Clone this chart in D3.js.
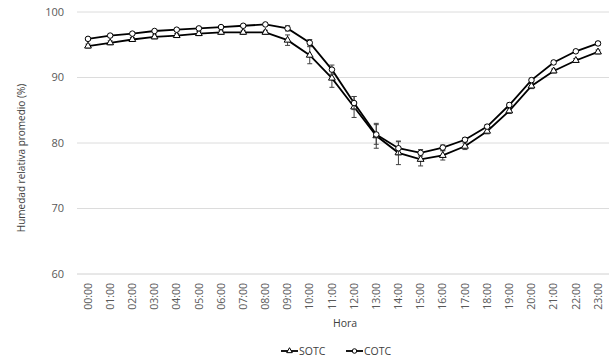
<!DOCTYPE html>
<html>
<head>
<meta charset="utf-8">
<script src="https://cdn.jsdelivr.net/npm/d3@7"></script>
<style>
  body { margin: 0; background: #fff; }
  svg { display: block; font-family: "Open Sans", "Liberation Sans", sans-serif; }
</style>
</head>
<body>
<svg id="chart" width="611" height="360"></svg>
<script>
// Hourly labels
const hours = ["00:00","01:00","02:00","03:00","04:00","05:00","06:00","07:00","08:00","09:00","10:00","11:00",
               "12:00","13:00","14:00","15:00","16:00","17:00","18:00","19:00","20:00","21:00","22:00","23:00"];

// Mean relative humidity (%) and error (±)
const sotc = [94.8,95.3,95.8,96.2,96.4,96.7,96.9,96.9,96.9,95.7,93.4,89.9,85.5,81.1,78.5,77.5,78.1,79.5,81.8,84.9,88.7,91.0,92.6,93.9];
const sotcErr = [0.3,0.3,0.3,0.3,0.3,0.3,0.3,0.3,0.3,0.8,1.3,1.4,1.6,1.9,1.8,1.0,0.7,0.5,0.4,0.4,0.4,0.3,0.3,0.3];
const cotc = [95.9,96.4,96.7,97.1,97.3,97.5,97.7,97.9,98.1,97.5,95.3,91.2,86.1,81.3,79.2,78.5,79.3,80.5,82.5,85.8,89.6,92.3,94.0,95.2];
const cotcErr = [0.2,0.2,0.2,0.2,0.2,0.2,0.2,0.2,0.2,0.4,0.5,0.7,1.0,1.5,1.0,0.5,0.4,0.3,0.3,0.3,0.3,0.3,0.2,0.3];

const yTicks = [60,70,80,90,100];
const seriesNames = ["SOTC","COTC"];

const svg = d3.select("#chart");
const plot = { left: 77, right: 609, top: 12, bottom: 274 };

const x = d3.scalePoint().domain(hours).range([88, 598]);
const y = d3.scaleLinear().domain([60,100]).range([plot.bottom, plot.top]);

// Gridlines
svg.append("g").selectAll("line").data(yTicks).join("line")
  .attr("x1", plot.left).attr("x2", plot.right)
  .attr("y1", d => y(d)).attr("y2", d => y(d))
  .attr("stroke", d => d === 60 ? "#d0d0d0" : "#dcdcdc").attr("stroke-width", 1);

// Y axis tick labels
svg.append("g").selectAll("text").data(yTicks).join("text")
  .attr("x", 64).attr("y", d => y(d)).attr("dy", "0.35em")
  .attr("text-anchor", "end").attr("font-size", 11).attr("fill", "#595959")
  .text(d => d);

// X axis tick labels (rotated)
svg.append("g").selectAll("text").data(hours).join("text")
  .attr("transform", d => `translate(${x(d)},283) rotate(-90)`)
  .attr("dy", "0.35em")
  .attr("text-anchor", "end").attr("font-size", 10.5).attr("fill", "#595959")
  .text(d => d);

// Axis titles
svg.append("text").attr("x", 345).attr("y", 327).attr("text-anchor", "middle")
  .attr("font-size", 10.5).attr("fill", "#404040").text("Hora");
svg.append("text").attr("transform", "translate(21,158) rotate(-90)")
  .attr("dy", "0.35em").attr("text-anchor", "middle")
  .attr("font-size", 10).attr("fill", "#404040").text("Humedad relativa promedio (%)");

const line = d3.line().x((d, i) => x(hours[i])).y(d => y(d));

function drawSeries(values, errs, shape) {
  const g = svg.append("g");
  // error bars
  const eb = g.append("g").attr("stroke", "#404040").attr("stroke-width", 1);
  values.forEach((v, i) => {
    const cx = x(hours[i]);
    const y1 = y(v - errs[i]), y2 = y(v + errs[i]);
    eb.append("line").attr("x1", cx).attr("x2", cx).attr("y1", y1).attr("y2", y2);
    eb.append("line").attr("x1", cx - 2.5).attr("x2", cx + 2.5).attr("y1", y1).attr("y2", y1);
    eb.append("line").attr("x1", cx - 2.5).attr("x2", cx + 2.5).attr("y1", y2).attr("y2", y2);
  });
  g.append("path").datum(values).attr("d", line)
    .attr("fill", "none").attr("stroke", "#000").attr("stroke-width", 1.8);
  const sym = d3.symbol().type(shape === "circle" ? d3.symbolCircle : d3.symbolTriangle)
    .size(shape === "circle" ? 24 : 20);
  g.append("g").selectAll("path").data(values).join("path")
    .attr("transform", (d, i) => `translate(${x(hours[i])},${y(d)})`)
    .attr("d", sym).attr("fill", "#fff").attr("stroke", "#000").attr("stroke-width", 1);
}

drawSeries(sotc, sotcErr, "triangle");
drawSeries(cotc, cotcErr, "circle");

// Legend
const legend = [
  { name: seriesNames[0], shape: d3.symbolTriangle, size: 14, x0: 281 },
  { name: seriesNames[1], shape: d3.symbolCircle, size: 16, x0: 346 }
];
const lg = svg.append("g");
legend.forEach(l => {
  const ly = 351;
  lg.append("line").attr("x1", l.x0).attr("x2", l.x0 + 17).attr("y1", ly).attr("y2", ly)
    .attr("stroke", "#000").attr("stroke-width", 1.8);
  lg.append("path").attr("transform", `translate(${l.x0 + 8.5},${ly})`)
    .attr("d", d3.symbol().type(l.shape).size(l.size)).attr("fill", "#fff").attr("stroke", "#000");
  lg.append("text").attr("x", l.x0 + 18).attr("y", ly).attr("dy", "0.35em")
    .attr("font-size", 10.5).attr("fill", "#404040").text(l.name);
});
</script>
</body>
</html>
